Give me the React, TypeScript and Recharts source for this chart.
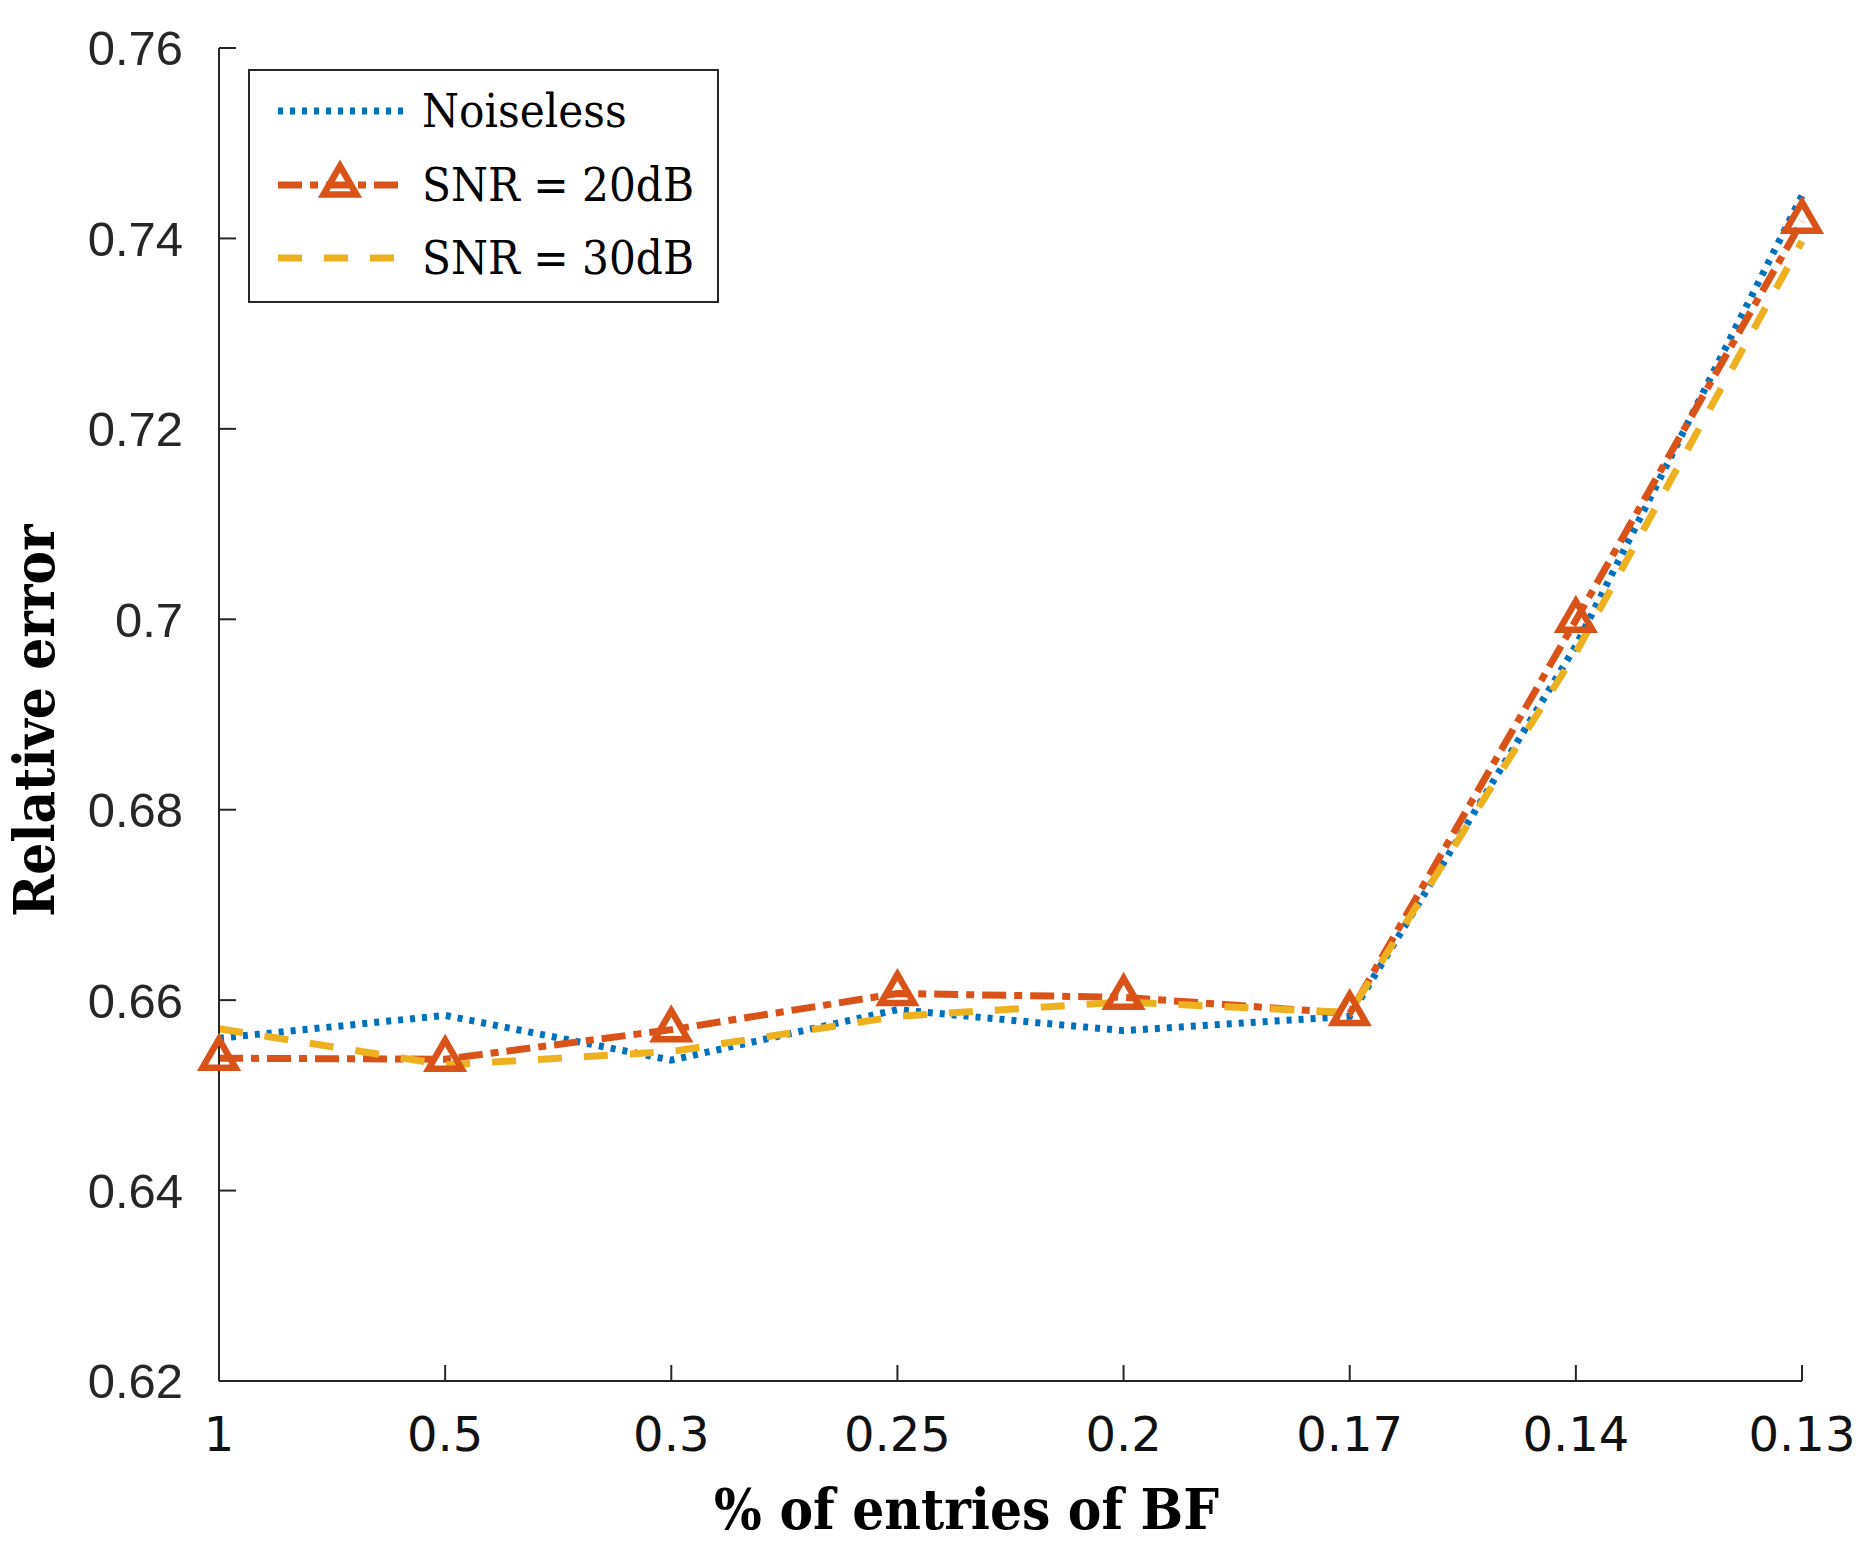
import { LineChart, Line, XAxis, YAxis, Legend, Label } from "recharts";

const categories = ["1", "0.5", "0.3", "0.25", "0.2", "0.17", "0.14", "0.13"];
const noiseless = [0.656, 0.6584, 0.6537, 0.659, 0.6568, 0.6583, 0.6972, 0.7445];
const snr20 = [0.6539, 0.6538, 0.6569, 0.6607, 0.6603, 0.6586, 0.6999, 0.7418];
const snr30 = [0.657, 0.6532, 0.6546, 0.6583, 0.6598, 0.6587, 0.6965, 0.7397];
const yTicks = [0.62, 0.64, 0.66, 0.68, 0.7, 0.72, 0.74, 0.76];

const data = categories.map((label, i) => ({
  label,
  noiseless: noiseless[i],
  snr20: snr20[i],
  snr30: snr30[i],
}));

const SERIF = "'DejaVu Serif Condensed', 'DejaVu Serif', serif";
const AXIS = "#262626";

const series = [
  { key: "noiseless", name: "Noiseless", color: "#0072BD", dash: "5 7", marker: false },
  { key: "snr20", name: "SNR = 20dB", color: "#D95319", dash: "24 8 8 8", marker: true },
  { key: "snr30", name: "SNR = 30dB", color: "#EDB120", dash: "24 22", marker: false },
];

function Triangle({ cx, cy, color }: { cx?: number; cy?: number; color: string }) {
  if (cx == null || cy == null) return null;
  const pts = `${cx},${cy - 19} ${cx - 16.5},${cy + 9.5} ${cx + 16.5},${cy + 9.5}`;
  return <polygon points={pts} fill="none" stroke={color} strokeWidth={6.5} />;
}

function LegendBox() {
  return (
    <div
      style={{
        width: 471,
        height: 234,
        boxSizing: "border-box",
        border: `2px solid ${AXIS}`,
        background: "#fff",
        position: "relative",
      }}
    >
      {series.map((s, i) => (
        <div
          key={s.key}
          style={{
            position: "absolute",
            left: 28,
            top: 10 + i * 73.5,
            height: 60,
            display: "flex",
            alignItems: "center",
          }}
        >
          <svg width={126} height={60} style={{ display: "block" }}>
            <line x1={0} x2={125} y1={30} y2={30} stroke={s.color} strokeWidth={7} strokeDasharray={s.dash} />
            {s.marker && <Triangle cx={62} cy={30} color={s.color} />}
          </svg>
          <span
            style={{
              marginLeft: 18,
              fontFamily: SERIF,
              fontStretch: "condensed",
              fontSize: 47,
              lineHeight: "60px",
              color: "#000",
              whiteSpace: "nowrap",
            }}
          >
            {s.name}
          </span>
        </div>
      ))}
    </div>
  );
}

export default function App() {
  return (
    <div style={{ position: "absolute", left: 0, top: 0, background: "#fff" }}>
      <LineChart width={1861} height={1548} data={data} margin={{ top: 48, right: 59, bottom: 0, left: 0 }}>
        <XAxis
          dataKey="label"
          height={167}
          interval={0}
          tickSize={-16}
          tickMargin={52}
          axisLine={{ stroke: AXIS, strokeWidth: 2 }}
          tickLine={{ stroke: AXIS, strokeWidth: 2 }}
          tick={{ fontFamily: "DejaVu Sans", fontSize: 48, fill: "#111" }}
        >
          <Label
            content={(props: any) => {
              const vb = props.viewBox;
              return (
                <text
                  x={vb.x + vb.width / 2 - 44}
                  y={vb.y + 148}
                  textAnchor="middle"
                  fontFamily={SERIF}
                  fontWeight="bold"
                  fontSize={56}
                  fill="#000"
                >
                  % of entries of BF
                </text>
              );
            }}
          />
        </XAxis>
        <YAxis
          type="number"
          domain={[0.62, 0.76]}
          ticks={yTicks}
          width={219}
          tickSize={-17}
          tickMargin={53}
          allowDataOverflow
          axisLine={{ stroke: AXIS, strokeWidth: 2 }}
          tickLine={{ stroke: AXIS, strokeWidth: 2 }}
          tick={{ fontFamily: "'Liberation Sans', Arial, sans-serif", fontSize: 49, fill: AXIS }}
        >
          <Label
            content={(props: any) => {
              const vb = props.viewBox;
              const cx = 54;
              const cy = vb.y + vb.height / 2 + 6;
              return (
                <text
                  x={cx}
                  y={cy}
                  transform={`rotate(-90, ${cx}, ${cy})`}
                  textAnchor="middle"
                  fontFamily={SERIF}
                  fontWeight="bold"
                  fontSize={56}
                  fill="#000"
                >
                  Relative error
                </text>
              );
            }}
          />
        </YAxis>
        <Legend
          layout="vertical"
          align="center"
          verticalAlign="middle"
          wrapperStyle={{ left: 248, top: 69, width: 471, height: 234 }}
          content={() => <LegendBox />}
        />
        {series.map((s) => (
          <Line
            key={s.key}
            type="linear"
            dataKey={s.key}
            name={s.name}
            stroke={s.color}
            strokeWidth={7}
            strokeDasharray={s.dash}
            isAnimationActive={false}
            activeDot={false}
            dot={
              s.marker
                ? (p: any) => <Triangle key={`${s.key}-${p.index}`} cx={p.cx} cy={p.cy} color={s.color} />
                : false
            }
          />
        ))}
      </LineChart>
    </div>
  );
}
